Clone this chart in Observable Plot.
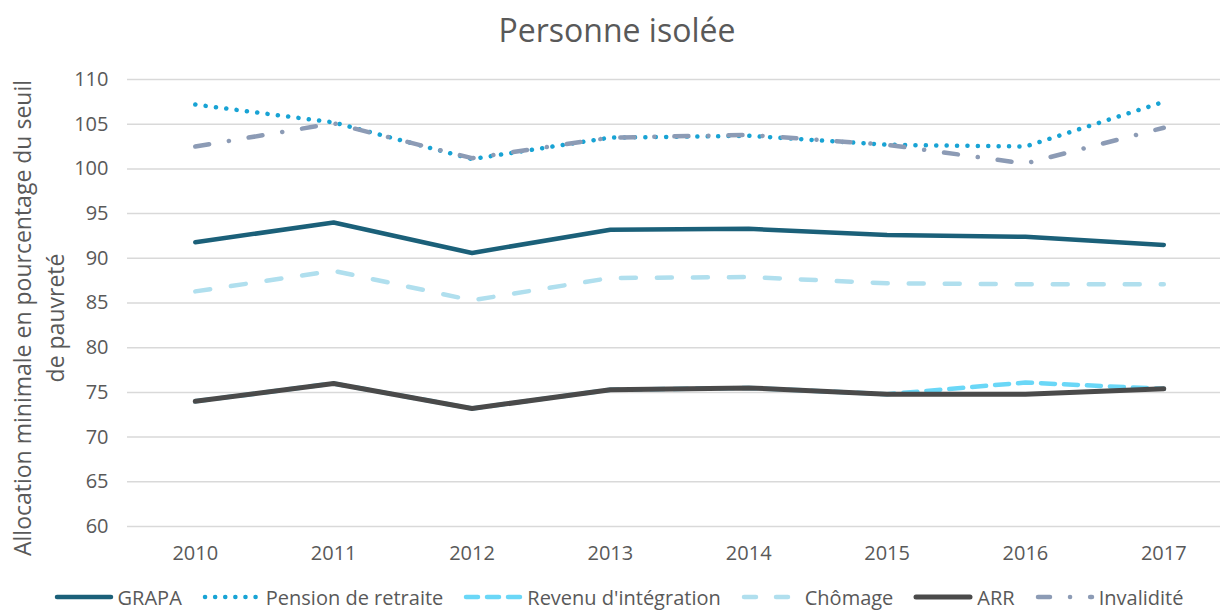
<!DOCTYPE html>
<html>
<head>
<meta charset="utf-8">
<script src="https://cdn.jsdelivr.net/npm/d3@7"></script>
<script src="https://cdn.jsdelivr.net/npm/@observablehq/plot@0.6"></script>
<style>
  html, body { margin: 0; padding: 0; background: #ffffff; }
  body { width: 1220px; height: 614px; overflow: hidden; font-family: "Open Sans", sans-serif; color: #595959; }
  #title { height: 60px; line-height: 60px; text-align: center; font-size: 32px; color: #595959; padding-left: 14px; }
  #chart { height: 520px; }
  #legend { height: 34px; display: flex; justify-content: center; align-items: center; font-size: 20px; color: #595959; padding-left: 16px; }
  .item { display: flex; align-items: center; margin: 0 9.5px; }
  .item svg { margin-right: 3px; }
</style>
</head>
<body>
<div id="title">Personne isolée</div>
<div id="chart"></div>
<div id="legend"></div>
<script>
const years = [2010, 2011, 2012, 2013, 2014, 2015, 2016, 2017];
const yTicks = [60, 65, 70, 75, 80, 85, 90, 95, 100, 105, 110];
const seriesNames = ["GRAPA", "Pension de retraite", "Revenu d'intégration", "Chômage", "ARR", "Invalidité"];
const grapa      = [91.8, 94.0, 90.6, 93.2, 93.3, 92.6, 92.4, 91.5];
const pension    = [107.2, 105.2, 101.1, 103.5, 103.7, 102.7, 102.5, 107.5];
const revenu     = [74.0, 76.0, 73.2, 75.3, 75.5, 74.8, 76.1, 75.4];
const chomage    = [86.3, 88.6, 85.3, 87.8, 87.9, 87.2, 87.1, 87.1];
const arr        = [74.0, 76.0, 73.2, 75.3, 75.5, 74.8, 74.8, 75.4];
const invalidite = [102.5, 105.1, 101.2, 103.5, 103.8, 102.7, 100.6, 104.6];

const values = [grapa, pension, revenu, chomage, arr, invalidite];
const styles = [
  {stroke: "#1b6079", strokeWidth: 4.5, strokeDasharray: null},
  {stroke: "#18a3d4", strokeWidth: 4.5, strokeDasharray: "0.1 10.3"},
  {stroke: "#6ad7f7", strokeWidth: 4.5, strokeDasharray: "14 9"},
  {stroke: "#b0dfee", strokeWidth: 4.5, strokeDasharray: "15 21"},
  {stroke: "#4a4a4a", strokeWidth: 5, strokeDasharray: null},
  {stroke: "#8c9bb5", strokeWidth: 4.5, strokeDasharray: "14 20 0.1 20"}
];

const tables = values.map((vals, i) => years.map((y, j) => ({year: y, value: vals[j], series: seriesNames[i]})));

const lineMarks = tables.map((t, i) => Plot.lineY(t, {
  x: "year", y: "value",
  stroke: styles[i].stroke,
  strokeWidth: styles[i].strokeWidth,
  strokeDasharray: styles[i].strokeDasharray,
  strokeLinecap: "round",
  strokeLinejoin: "round"
}));

const chart = Plot.plot({
  width: 1220,
  height: 520,
  marginLeft: 127,
  marginRight: 0,
  marginTop: 19,
  marginBottom: 54,
  style: {fontFamily: "Open Sans", fontSize: "20px", color: "#595959", background: "#ffffff", overflow: "visible"},
  x: {type: "linear", domain: [2009.51, 2017.41], label: null},
  y: {domain: [60, 110], label: null},
  marks: [
    Plot.gridY(yTicks, {stroke: "#d9d9d9", strokeOpacity: 1, strokeWidth: 1.5}),
    Plot.axisY(yTicks, {tickSize: 0, tickPadding: 19, label: null, fill: "#595959", fontSize: 20}),
    Plot.axisX(years, {tickSize: 0, tickPadding: 19, label: null, tickFormat: d => String(d), fill: "#595959", fontSize: 20}),
    ...lineMarks
  ]
});
document.getElementById("chart").appendChild(chart);

// y-axis title (two lines, rotated)
const svg = d3.select(chart);
const yTitle = ["Allocation minimale en pourcentage du seuil", "de pauvreté"];
const yTitleX = [22, 55];
yTitle.forEach((t, i) => {
  svg.append("text")
    .attr("transform", `translate(${yTitleX[i]},258) rotate(-90)`)
    .attr("text-anchor", "middle")
    .attr("dominant-baseline", "central")
    .attr("font-family", "Open Sans")
    .attr("font-size", 23)
    .attr("fill", "#595959")
    .text(t);
});

// legend
const legend = d3.select("#legend");
seriesNames.forEach((name, i) => {
  const item = legend.append("div").attr("class", "item");
  const s = item.append("svg").attr("width", 62).attr("height", 12);
  s.append("line")
    .attr("x1", 4).attr("x2", 58).attr("y1", 6).attr("y2", 6)
    .attr("stroke", styles[i].stroke)
    .attr("stroke-width", styles[i].strokeWidth)
    .attr("stroke-linecap", "round")
    .attr("stroke-dasharray", i === 1 ? "0.1 10" : i === 2 ? "12 9" : i === 3 ? "12 20" : i === 5 ? "12 20 0.1 20" : null);
  item.append("span").text(name);
});
</script>
</body>
</html>
